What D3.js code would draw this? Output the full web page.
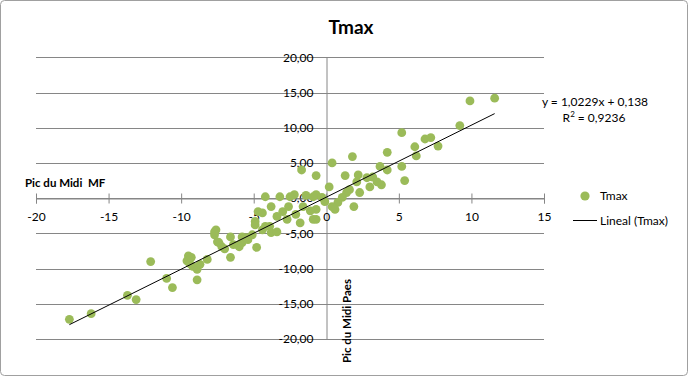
<!DOCTYPE html>
<html><head><meta charset="utf-8">
<script src="https://cdn.jsdelivr.net/npm/d3@7"></script>
<style>body{margin:0;background:#fff}svg{display:block}text{font-family:Lato,"Open Sans",sans-serif}</style>
</head><body><svg id="c" width="688" height="376"></svg>
<script>
const chartTitle = "Tmax";
const xTicks = [-20,-15,-10,-5,0,5,10,15];
const yTicks = [-20,-15,-10,-5,0,5,10,15,20];
const pointsX = [-17.7,-16.2,-13.7,-13.1,-12.1,-11.0,-10.6,-9.5,-9.6,-9.4,-9.2,-8.9,-8.7,-8.9,-9.3,-8.2,-7.6,-7.7,-7.4,-7.2,-7.0,-6.6,-6.6,-6.0,-5.8,-5.4,-5.1,-4.8,-4.9,-4.7,-4.2,-3.2,-2.2,-1.4,-1.7,-0.7,0.2,0.4,1.8,4.2,6.1,5.2,5.4,3.7,4.2,1.3,2.2,2.1,2.8,3.2,3.5,3.8,3.0,2.3,1.6,1.4,1.1,0.8,0.4,0.6,1.9,-0.3,-0.1,9.9,11.6,9.2,7.2,6.8,7.7,6.2,5.2,-0.7,-0.7,-2.1,-3.0,-3.8,-3.4,-2.7,-4.9,-4.4,-3.9,-3.8,-3.4,-5.8,-6.0,-1.8,-0.9,-4.2,-5.5,-6.4,-7.5,-7.7,-1.1,-2.5,-0.7,-1.6,-2.6,-4.4,-0.9];
const pointsY = [-17.2,-16.4,-13.8,-14.4,-9.0,-11.4,-12.7,-8.2,-8.9,-9.3,-9.7,-10.1,-9.4,-11.6,-8.4,-8.7,-4.5,-5.2,-6.3,-6.9,-7.2,-5.5,-8.4,-6.6,-6.3,-5.9,-5.2,-7.0,-3.3,-1.9,0.2,0.2,0.5,0.4,4.0,3.2,1.6,5.0,5.9,6.5,7.3,4.5,2.5,4.5,4.0,3.2,3.3,2.3,2.9,3.0,2.3,1.9,1.6,0.8,1.2,0.8,0.1,-0.6,-1.2,-1.6,-1.2,0.1,-0.5,13.8,14.2,10.3,8.6,8.4,7.4,6.0,9.3,-1.6,-3.0,-2.3,-1.9,-1.2,-2.6,-3.0,-3.8,-4.5,-4.0,-4.9,-4.8,-5.5,-6.9,-3.5,-3.0,-4.0,-5.6,-6.6,-6.2,-4.8,-1.8,0.2,0.5,-1.2,-1.2,-2.1,0.2];
const trendSlope = 1.0229, trendIntercept = 0.138, rSquared = "0,9236";
const equationText = "y = 1,0229x + 0,138";
const xAxisTitle = "Pic du Midi\u00a0 MF";
const yAxisTitle = "Pic du Midi Paes";
const legendLabels = ["Tmax", "Lineal (Tmax)"];

const svg = d3.select("#c");
const green = "#9bbb59", grid = "#868686";
svg.append("rect").attr("x",0.5).attr("y",0.5).attr("width",687).attr("height",375)
  .attr("rx",4).attr("fill","#fff").attr("stroke","#a0a0a0");

const x = d3.scaleLinear().domain([-20,15]).range([36,544]);
const y = d3.scaleLinear().domain([-20,20]).range([339,57.3]);
const loc = d3.formatLocale({decimal:",",thousands:".",grouping:[3],currency:["",""],minus:"-"});
const fy = loc.format(".2f"), fx = loc.format("d");

// gridlines
svg.append("g").selectAll("line").data(yTicks).join("line")
  .attr("x1",x(-20)).attr("x2",x(15)).attr("y1",d=>Math.round(y(d))+0.5).attr("y2",d=>Math.round(y(d))+0.5)
  .attr("stroke",grid).attr("stroke-width",1);

// y axis
const gy = svg.append("g").attr("transform",`translate(${Math.round(x(0))+0.5},0)`)
  .call(d3.axisLeft(y).tickValues(yTicks).tickFormat(fy).tickSize(0).tickPadding(13));
gy.select(".domain").attr("stroke",grid);
gy.selectAll("text").attr("font-size",12).attr("fill","#000").attr("font-family","Lato");

// x axis
const gx = svg.append("g").attr("transform",`translate(0,${Math.round(y(0))+0.5})`)
  .call(d3.axisBottom(x).tickValues(xTicks).tickFormat(fx).tickSize(5));
gx.select(".domain").attr("stroke",grid);
gx.selectAll(".tick line").attr("stroke",grid).attr("y1",-5).attr("y2",5);
gx.selectAll("text").attr("font-size",12).attr("fill","#000").attr("font-family","Lato").attr("y",14).attr("dy","0.71em");

// points
const pts = pointsX.map((v,i)=>({x:v,y:pointsY[i]}));
svg.append("g").selectAll("circle").data(pts).join("circle")
  .attr("cx",d=>x(d.x)).attr("cy",d=>y(d.y)).attr("r",4.4).attr("fill",green);

// trendline
const xmin = d3.min(pointsX), xmax = d3.max(pointsX);
svg.append("line").attr("x1",x(xmin)).attr("y1",y(trendSlope*xmin+trendIntercept))
  .attr("x2",x(xmax)).attr("y2",y(trendSlope*xmax+trendIntercept))
  .attr("stroke","#000").attr("stroke-width",1);

// title
svg.append("text").attr("x",351).attr("y",34).attr("text-anchor","middle")
  .attr("font-size",19).attr("font-weight","bold").text(chartTitle);

// axis titles
svg.append("text").attr("x",25).attr("y",187).attr("font-size",11.5).attr("font-weight","bold").text(xAxisTitle);
svg.append("text").attr("transform","translate(351,321) rotate(-90)").attr("text-anchor","middle")
  .attr("font-size",11.5).attr("font-weight","bold").text(yAxisTitle);

// equation
const eq = svg.append("text").attr("font-size",12).attr("text-anchor","middle");
eq.append("tspan").attr("x",595).attr("y",106).text(equationText);
const r2 = svg.append("text").attr("x",594).attr("y",122).attr("font-size",12).attr("text-anchor","middle");
r2.append("tspan").text("R");
r2.append("tspan").attr("font-size",8).attr("dy",-5).text("2");
r2.append("tspan").attr("dy",5).text(" = " + rSquared);

// legend
svg.append("circle").attr("cx",585).attr("cy",196).attr("r",4.6).attr("fill",green);
svg.append("text").attr("x",600).attr("y",200).attr("font-size",12).text(legendLabels[0]);
svg.append("line").attr("x1",573).attr("x2",597).attr("y1",220.5).attr("y2",220.5).attr("stroke","#000");
svg.append("text").attr("x",600).attr("y",225).attr("font-size",12).text(legendLabels[1]);
</script></body></html>
